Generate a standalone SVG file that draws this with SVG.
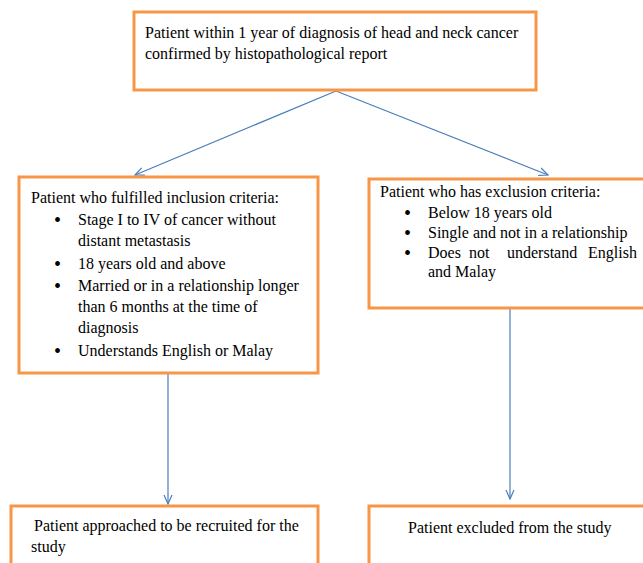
<svg xmlns="http://www.w3.org/2000/svg" width="643" height="563" viewBox="0 0 643 563">
<style>
.box{fill:#fff;stroke:#f79646;stroke-width:3}
text{font-family:"Liberation Serif","Times New Roman",serif;font-size:16px;fill:#000}
.b{font-size:20px}
.con{stroke:#4a7ebb;stroke-width:1.2;fill:none}
</style>
<defs>
<marker id="ah" viewBox="0 0 10 10" refX="9" refY="5" markerWidth="10" markerHeight="10" markerUnits="userSpaceOnUse" orient="auto">
<path d="M0,1 L9,5 L0,9" fill="none" stroke="#4a7ebb" stroke-width="1.2"/>
</marker>
</defs>
<rect width="643" height="563" fill="#fff"/>
<g id="connectors">
<line class="con" x1="336" y1="91" x2="135" y2="175" marker-end="url(#ah)"/>
<line class="con" x1="336" y1="91" x2="548" y2="175" marker-end="url(#ah)"/>
<line class="con" x1="168" y1="374" x2="168" y2="504" marker-end="url(#ah)"/>
<line class="con" x1="510" y1="309" x2="510" y2="499" marker-end="url(#ah)"/>
</g>
<g id="top">
<rect class="box" x="134" y="12" width="402" height="78"/>
<text x="145" y="38">Patient within 1 year of diagnosis of head and neck cancer</text>
<text x="145" y="59">confirmed by histopathological report</text>
</g>
<g id="inclusion">
<rect class="box" x="19" y="177" width="299" height="196"/>
<text x="31" y="203">Patient who fulfilled inclusion criteria:</text>
<text class="b" x="54" y="227">•</text><text x="78" y="225">Stage I to IV of cancer without</text>
<text x="78" y="246">distant metastasis</text>
<text class="b" x="54" y="271">•</text><text x="78" y="269">18 years old and above</text>
<text class="b" x="54" y="293">•</text><text x="78" y="291">Married or in a relationship longer</text>
<text x="78" y="312">than 6 months at the time of</text>
<text x="78" y="333">diagnosis</text>
<text class="b" x="54" y="358">•</text><text x="78" y="356">Understands English or Malay</text>
</g>
<g id="exclusion">
<rect class="box" x="369" y="179" width="290" height="129"/>
<text x="380" y="197">Patient who has exclusion criteria:</text>
<text class="b" x="404" y="220">•</text><text x="428" y="218">Below 18 years old</text>
<text class="b" x="404" y="240">•</text><text x="428" y="238">Single and not in a relationship</text>
<text class="b" x="404" y="260">•</text><text x="428" y="258">Does</text><text x="469" y="258">not</text><text x="507" y="258">understand</text><text x="588" y="258">English</text>
<text x="428" y="277">and Malay</text>
</g>
<g id="recruited">
<rect class="box" x="11" y="506" width="307" height="70"/>
<text x="34" y="531">Patient approached to be recruited for the</text>
<text x="31" y="552">study</text>
</g>
<g id="excluded">
<rect class="box" x="369" y="506" width="290" height="70"/>
<text x="408" y="533">Patient excluded from the study</text>
</g>
</svg>
